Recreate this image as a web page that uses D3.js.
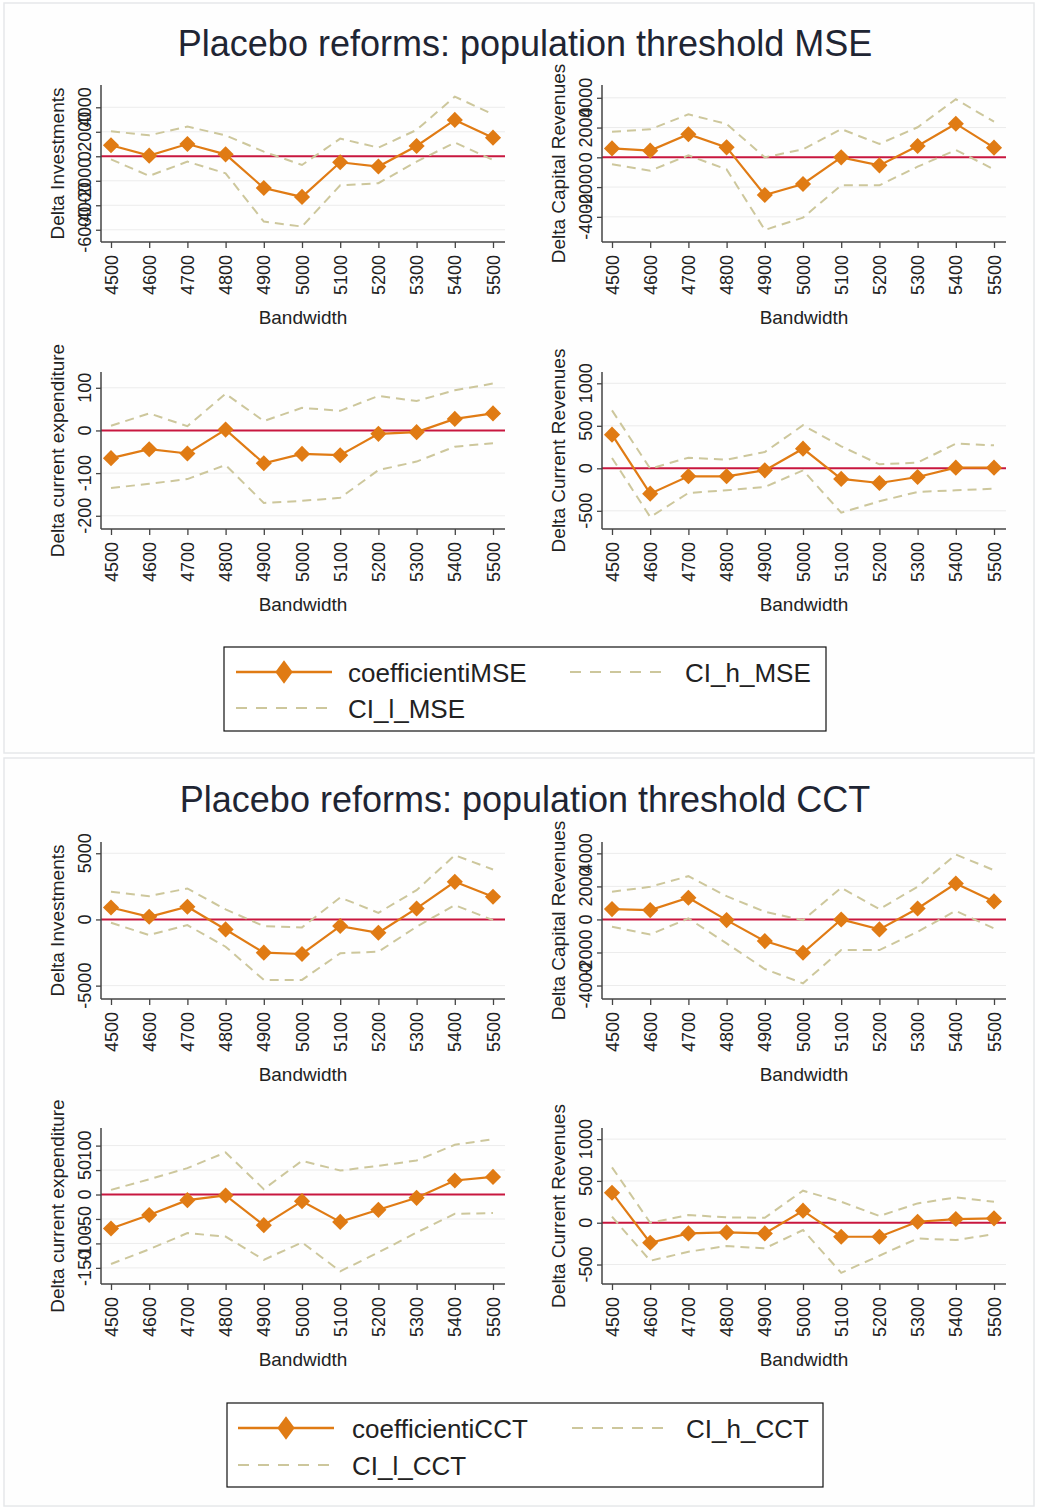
<!DOCTYPE html>
<html><head><meta charset="utf-8">
<script src="https://cdn.jsdelivr.net/npm/d3@7"></script>
<style>body{margin:0;background:#fff}svg{display:block}text{font-family:"Liberation Sans",Arial,sans-serif}</style>
</head><body><div id="chart"></div>
<script>
// ---------- data ----------
const bandwidth = [4500,4600,4700,4800,4900,5000,5100,5200,5300,5400,5500];

const mseInvCoef = [900, 50, 1000, 160, -2590, -3320, -490, -840, 840, 2970, 1520];
const mseInvHi   = [2040, 1710, 2420, 1710, 380, -710, 1440, 710, 2150, 4870, 3430];
const mseInvLo   = [-250, -1600, -440, -1390, -5330, -5740, -2370, -2200, -440, 1120, -300];

const mseCapCoef = [600, 450, 1550, 670, -2530, -1790, 0, -540, 760, 2260, 650];
const mseCapHi   = [1720, 1880, 2890, 2240, 0, 540, 1900, 900, 2020, 3900, 2400];
const mseCapLo   = [-470, -900, 130, -810, -4880, -4050, -1880, -1880, -630, 490, -810];

const mseExpCoef = [-65, -44, -54, 2, -77, -55, -58, -8, -4, 27, 40];
const mseExpHi   = [11, 40, 10, 86, 22, 53, 46, 81, 69, 94, 110];
const mseExpLo   = [-135, -125, -114, -81, -170, -165, -158, -93, -73, -38, -30];

const mseRevCoef = [396, -298, -94, -94, -24, 231, -125, -173, -102, 8, 8];
const mseRevHi   = [682, -4, 125, 102, 192, 506, 259, 47, 67, 290, 271];
const mseRevLo   = [122, -573, -290, -259, -220, -24, -522, -388, -278, -259, -239];

const cctInvCoef = [905, 200, 955, -755, -2510, -2610, -500, -1005, 830, 2840, 1710];
const cctInvHi   = [2085, 1760, 2340, 755, -500, -600, 1660, 500, 2210, 4850, 3770];
const cctInvLo   = [-250, -1180, -430, -2060, -4570, -4570, -2560, -2440, -550, 1080, -50];

const cctCapCoef = [625, 565, 1310, -40, -1310, -2015, 0, -605, 665, 2175, 1090];
const cctCapHi   = [1675, 1975, 2620, 1410, 465, -40, 1915, 625, 1975, 3930, 2980];
const cctCapLo   = [-445, -905, 60, -1450, -3000, -3870, -1855, -1855, -745, 525, -545];

const cctExpCoef = [-69.5, -42, -11.6, -2, -62.7, -13.6, -56, -31.3, -6.8, 28.6, 36];
const cctExpHi   = [9.5, 31, 54, 86, 11, 69, 49, 58.6, 69.5, 101.6, 113];
const cctExpLo   = [-142, -112, -79, -86, -133.5, -98, -157, -118.5, -77.7, -39.5, -38];

const cctRevCoef = [359, -239, -128, -116, -128, 144, -168, -168, 12, 44, 52];
const cctRevHi   = [662, 0, 92, 64, 60, 383, 251, 80, 231, 303, 251];
const cctRevLo   = [72, -455, -347, -279, -307, -88, -599, -395, -188, -208, -136];

const ticksInv6 = [-6000,-4000,-2000,0,2000,4000];
const ticksCap  = [-4000,-2000,0,2000,4000];
const ticksExpMse = [-200,-100,0,100];
const ticksRev  = [-500,0,500,1000];
const ticksInv5 = [-5000,0,5000];
const ticksExpCct = [-150,-100,-50,0,50,100];

const titles = ["Placebo reforms: population threshold MSE","Placebo reforms: population threshold CCT"];
const yTitles = ["Delta Investments","Delta Capital Revenues","Delta current expenditure","Delta Current Revenues"];
const xTitle = "Bandwidth";
const legendMSE = ["coefficientiMSE","CI_h_MSE","CI_l_MSE"];
const legendCCT = ["coefficientiCCT","CI_h_CCT","CI_l_CCT"];

// ---------- style / layout ----------
const W = 1038, H = 1508;
const ORANGE = "#e07b14", RED = "#c8173f", SAND = "#cdc79c", GRID = "#ececec", AXIS = "#444", TXT = "#222";
const colAxisX = [101, 602];
const plotW = 404;

const panels = [
  {coef:mseInvCoef, hi:mseInvHi, lo:mseInvLo, ticks:ticksInv6, dom:[-7000,5820], col:0, top:85, bot:242, yt:yTitles[0]},
  {coef:mseCapCoef, hi:mseCapHi, lo:mseCapLo, ticks:ticksCap, dom:[-5690,4860], col:1, top:85, bot:242, yt:yTitles[1]},
  {coef:mseExpCoef, hi:mseExpHi, lo:mseExpLo, ticks:ticksExpMse, dom:[-231,137], col:0, top:372, bot:529, yt:yTitles[2]},
  {coef:mseRevCoef, hi:mseRevHi, lo:mseRevLo, ticks:ticksRev, dom:[-714,1133], col:1, top:372, bot:529, yt:yTitles[3]},
  {coef:cctInvCoef, hi:cctInvHi, lo:cctInvLo, ticks:ticksInv5, dom:[-6010,5850], col:0, top:842, bot:999, yt:yTitles[0]},
  {coef:cctCapCoef, hi:cctCapHi, lo:cctCapLo, ticks:ticksCap, dom:[-4816,4688], col:1, top:842, bot:999, yt:yTitles[1]},
  {coef:cctExpCoef, hi:cctExpHi, lo:cctExpLo, ticks:ticksExpCct, dom:[-183,136], col:0, top:1128, bot:1284, yt:yTitles[2]},
  {coef:cctRevCoef, hi:cctRevHi, lo:cctRevLo, ticks:ticksRev, dom:[-733,1133], col:1, top:1128, bot:1284, yt:yTitles[3]},
];

const svg = d3.select("#chart").append("svg").attr("width", W).attr("height", H);
svg.append("rect").attr("width", W).attr("height", H).attr("fill", "#fff");

// figure blocks
[[4,3,1030,750],[4,758,1030,748]].forEach(b => {
  svg.append("rect").attr("x", b[0]).attr("y", b[1]).attr("width", b[2]).attr("height", b[3])
    .attr("fill", "#fefefe").attr("stroke", "#e6e8ea").attr("stroke-width", 1.5);
});

// titles
[[56, titles[0]],[812, titles[1]]].forEach(t => {
  svg.append("text").attr("x", 525).attr("y", t[0]).attr("text-anchor", "middle")
    .attr("font-size", 36).attr("fill", "#1f2533").text(t[1]);
});

const square = d3.symbol().type(d3.symbolSquare);

panels.forEach(p => {
  const ax = colAxisX[p.col];
  const x = d3.scaleLinear().domain([4500, 5500]).range([ax + 10, ax + 392]);
  const y = d3.scaleLinear().domain(p.dom).range([p.bot, p.top]);
  const g = svg.append("g");

  // grid
  g.selectAll(".grid").data(p.ticks.filter(t => t !== 0)).join("line")
    .attr("x1", ax).attr("x2", ax + plotW).attr("y1", d => y(d)).attr("y2", d => y(d))
    .attr("stroke", GRID).attr("stroke-width", 1);

  // zero line
  g.append("line").attr("x1", ax).attr("x2", ax + plotW).attr("y1", y(0)).attr("y2", y(0))
    .attr("stroke", RED).attr("stroke-width", 2);

  // axes
  const yAxis = d3.axisLeft(y).tickValues(p.ticks).tickSize(5).tickFormat("");
  const ya = g.append("g").attr("transform", `translate(${ax},0)`).call(yAxis);
  const xAxis = d3.axisBottom(x).tickValues(bandwidth).tickSize(6).tickFormat("");
  const xa = g.append("g").attr("transform", `translate(0,${p.bot})`).call(xAxis);
  [ya, xa].forEach(a => {
    a.select(".domain").attr("stroke", AXIS).attr("stroke-width", 1.5);
    a.selectAll(".tick line").attr("stroke", AXIS).attr("stroke-width", 1.3);
  });
  ya.select(".domain").attr("d", `M0,${p.top}V${p.bot}`);
  xa.select(".domain").attr("d", `M${ax},0H${ax + plotW}`);

  // y tick labels (rotated)
  g.selectAll(".ytl").data(p.ticks).join("text")
    .attr("transform", d => `translate(${ax - 10},${y(d)}) rotate(-90)`)
    .attr("text-anchor", "middle").attr("font-size", 18).attr("fill", TXT)
    .text(d => d3.format("d")(d).replace("−", "-"));

  // x tick labels (rotated)
  g.selectAll(".xtl").data(bandwidth).join("text")
    .attr("transform", d => `translate(${x(d) + 6.5},${p.bot + 13}) rotate(-90)`)
    .attr("text-anchor", "end").attr("font-size", 18).attr("fill", TXT)
    .text(d => d);

  // axis titles
  g.append("text").attr("transform", `translate(${ax - 37},${(p.top + p.bot) / 2}) rotate(-90)`)
    .attr("text-anchor", "middle").attr("font-size", 19).attr("fill", TXT).text(p.yt);
  g.append("text").attr("x", ax + plotW / 2).attr("y", p.bot + 82)
    .attr("text-anchor", "middle").attr("font-size", 19).attr("fill", TXT).text(xTitle);

  // series
  const line = d3.line().x((d, i) => x(bandwidth[i])).y(d => y(d));
  g.append("path").attr("d", line(p.coef)).attr("fill", "none").attr("stroke", ORANGE).attr("stroke-width", 2.2);
  g.selectAll(".mk").data(p.coef).join("path")
    .attr("d", square.size(130)).attr("transform", (d, i) => `translate(${x(bandwidth[i])},${y(d)}) rotate(45)`)
    .attr("fill", ORANGE);
  [p.hi, p.lo].forEach(s => {
    g.append("path").attr("d", line(s)).attr("fill", "none").attr("stroke", SAND)
      .attr("stroke-width", 2).attr("stroke-dasharray", "9,6");
  });
});

// legends
function legend(box, names, rows, keyX, txtX) {
  const g = svg.append("g");
  g.append("rect").attr("x", box[0]).attr("y", box[1]).attr("width", box[2]).attr("height", box[3])
    .attr("fill", "#fff").attr("stroke", "#111").attr("stroke-width", 1.2);
  const items = [[keyX[0], txtX[0], rows[0], 0], [keyX[1], txtX[1], rows[0], 1], [keyX[0], txtX[0], rows[1], 2]];
  items.forEach(([kx, tx, ry, k]) => {
    if (k === 0) {
      g.append("line").attr("x1", kx).attr("x2", kx + 96).attr("y1", ry).attr("y2", ry)
        .attr("stroke", ORANGE).attr("stroke-width", 2.5);
      g.append("path").attr("d", d3.symbol().type(d3.symbolSquare).size(150)())
        .attr("transform", `translate(${kx + 48},${ry}) scale(1,1.35) rotate(45)`).attr("fill", ORANGE);
    } else {
      g.append("line").attr("x1", kx).attr("x2", kx + 98).attr("y1", ry).attr("y2", ry)
        .attr("stroke", SAND).attr("stroke-width", 2).attr("stroke-dasharray", "11,9");
    }
    g.append("text").attr("x", tx).attr("y", ry + 9.5).attr("font-size", 26).attr("fill", TXT).text(names[k]);
  });
}
legend([224, 647, 602, 84], legendMSE, [672, 708], [236, 570], [348, 685]);
legend([227, 1403, 596, 84], legendCCT, [1428, 1465], [238, 572], [352, 686]);
</script></body></html>
